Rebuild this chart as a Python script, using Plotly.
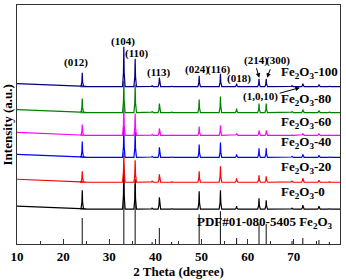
import plotly.graph_objects as go

# ---- data ----
peak_pos = [24.14, 33.15, 35.61, 39.28, 40.85, 43.5, 49.48, 54.09, 57.59, 62.45, 64.01, 69.6, 71.94, 75.43, 77.7]

series_names = ["Fe2O3-0", "Fe2O3-20", "Fe2O3-40", "Fe2O3-60", "Fe2O3-80", "Fe2O3-100"]
series_colors = ["#000000", "#ff0000", "#0000ff", "#ff00ff", "#008000", "#000080"]
series_base = [35, 62, 87, 109, 132, 158]
h_0   = [19, 40, 30, 1, 12, 1, 18, 19, 3, 11, 9, 1, 4, 3, 1]
h_20  = [11, 30, 22, 1, 8, 1, 11, 16, 4, 7, 6, 1, 4, 2, 1]
h_40  = [16, 30, 26, 1, 10, 1, 13, 15, 3, 9, 9, 1, 3, 2, 1]
h_60  = [11, 30, 22, 1, 7, 1, 9, 10, 2, 5, 5, 1, 2, 2, 1]
h_80  = [14, 32, 28, 1, 9, 1, 13, 16, 4, 9, 9, 1, 3, 2, 1]
h_100 = [14, 40, 28, 1, 9, 1, 11, 13, 3, 8, 8, 1, 3, 2, 1]
series_heights = [h_0, h_20, h_40, h_60, h_80, h_100]

# low-angle background rise (relative to baseline)
bg_x = [10, 15, 20, 25]
bg_y = [3, 2, 1, 0.2]

pdf_pos = [24.14, 33.15, 35.61, 39.28, 40.85, 43.5, 49.48, 54.09, 57.59, 62.45, 64.01, 69.6, 71.94, 75.43, 77.7]
pdf_h = [26, 80, 60, 2, 16, 2, 30, 33, 6, 20, 20, 3, 6, 4, 2]

label_y = [52, 77, 102, 122, 145, 172]
hkl_text = ["(012)", "(104)", "(110)", "(113)", "(024)", "(116)", "(018)", "(214)", "(300)", "(1,0,10)"]
hkl_x = [22.8, 33.0, 35.9, 40.8, 49.1, 53.8, 58.1, 61.8, 66.5, 62.7]
hkl_y = [182, 203, 191, 172, 175, 175, 166, 184, 184, 148]

FONT = "Liberation Serif"
HW = 0.28  # half width of peak at its foot

fig = go.Figure()

# PDF reference sticks
sx, sy = [], []
for p, h in zip(pdf_pos, pdf_h):
    sx += [p, p, None]
    sy += [0, h, None]
fig.add_trace(go.Scatter(x=sx, y=sy, mode="lines", line=dict(color="#222222", width=1.1),
                         showlegend=False, hoverinfo="skip"))

for name, col, base, hs in zip(series_names, series_colors, series_base, series_heights):
    xs = list(bg_x)
    ys = [base + v for v in bg_y]
    for p, h in zip(peak_pos, hs):
        xs += [p - HW, p - 0.08, p, p + 0.08, p + HW]
        ys += [base, base + h * 0.35, base + h, base + h * 0.35, base]
    xs.append(80)
    ys.append(base)
    fig.add_trace(go.Scatter(x=xs, y=ys, mode="lines", line=dict(color=col, width=1.2),
                             name=name, showlegend=False, hoverinfo="skip"))

ann = []
for name, y in zip(series_names, label_y):
    num = name.split("-")[1]
    ann.append(dict(x=66.8, y=y, xref="x", yref="y", xanchor="left", yanchor="middle",
                    text="Fe<sub>2</sub>O<sub>3</sub>-" + num, showarrow=False,
                    font=dict(family=FONT, size=13, color="black", weight="bold")))
ann.append(dict(x=48.6, y=22, xref="x", yref="y", xanchor="left", yanchor="middle",
                text="PDF#01-080-5405 Fe<sub>2</sub>O<sub>3</sub>", showarrow=False,
                font=dict(family=FONT, size=13, color="black", weight="bold")))
for t, x, y in zip(hkl_text, hkl_x, hkl_y):
    ann.append(dict(x=x, y=y, xref="x", yref="y", xanchor="center", yanchor="middle",
                    text=t, showarrow=False,
                    font=dict(family=FONT, size=11, color="black", weight="bold")))
# arrows
arrows = [((61.8, 178), (62.5, 167)), ((65.0, 177), (64.2, 167)), ((66.6, 151), (71.3, 157))]
for (tx, ty), (hx, hy) in arrows:
    ann.append(dict(x=hx, y=hy, ax=tx, ay=ty, xref="x", yref="y", axref="x", ayref="y",
                    text="", showarrow=True, arrowhead=2, arrowsize=0.9, arrowwidth=1,
                    arrowcolor="black"))
ann.append(dict(x=-0.028, y=0.5, xref="paper", yref="paper", text="Intensity (a.u.)",
                textangle=-90, showarrow=False, xanchor="center", yanchor="middle",
                font=dict(family=FONT, size=13, color="black", weight="bold")))

fig.update_layout(
    width=346, height=280,
    margin=dict(l=17, r=6, t=5, b=36),
    paper_bgcolor="white", plot_bgcolor="white",
    annotations=ann,
    xaxis=dict(range=[10, 80], tickvals=[10, 20, 30, 40, 50, 60, 70, 80],
               ticks="inside", ticklen=5, tickwidth=1, tickcolor="#333333",
               minor=dict(dtick=5, ticks="inside", ticklen=3, tickwidth=1, tickcolor="#333333"),
               showline=True, linecolor="#333333", linewidth=1.3, mirror=True,
               showgrid=False, zeroline=False,
               tickfont=dict(family=FONT, size=13, color="black", weight="bold"),
               title=dict(text="2 Theta (degree)", standoff=2,
                          font=dict(family=FONT, size=13, color="black", weight="bold"))),
    yaxis=dict(range=[0, 240], showticklabels=False, ticks="",
               showline=True, linecolor="#333333", linewidth=1.3, mirror=True,
               showgrid=False, zeroline=False),
)

fig.write_html("out.html", config={"displayModeBar": False},
               post_script="document.body.style.margin='0';")
